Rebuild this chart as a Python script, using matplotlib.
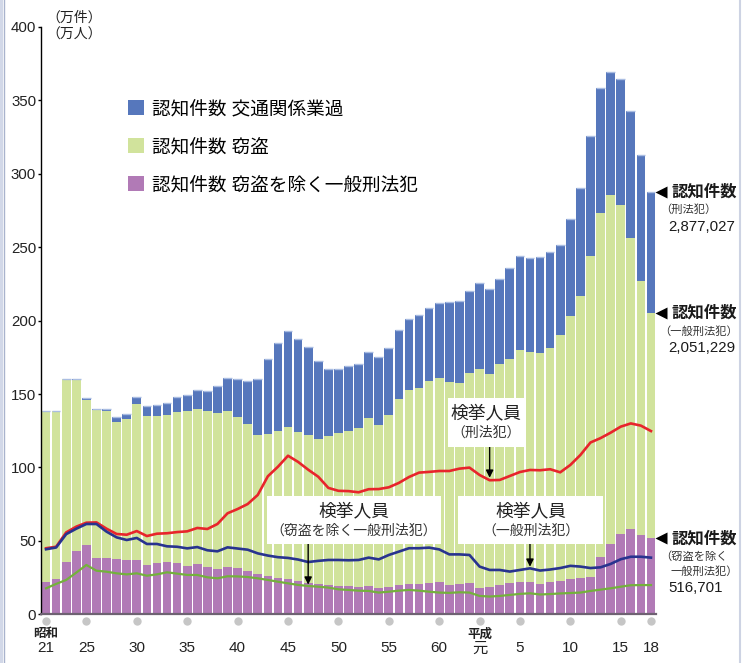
import numpy as np
import matplotlib
matplotlib.use('Agg')
import matplotlib.pyplot as plt
from matplotlib.patches import Rectangle
from matplotlib.lines import Line2D

plt.rcParams['font.family'] = ['Liberation Sans', 'Noto Sans CJK JP', 'DejaVu Sans']

years = np.arange(1946, 2007)

# 刑法犯 認知件数 (万件)
total = [138.7, 138.6, 160.3, 160.3, 147.0, 139.9, 139.5, 134.4, 136.1, 147.8,
         141.6, 142.5, 144.2, 148.3, 149.6, 153.0, 152.2, 155.8, 161.0, 160.2,
         159.1, 160.3, 174.2, 184.9, 193.2, 187.5, 181.8, 172.8, 167.2, 167.4,
         169.2, 170.3, 178.4, 175.3, 181.4, 193.5, 201.0, 204.0, 208.6, 212.0,
         212.6, 213.2, 220.5, 225.7, 221.8, 228.4, 235.6, 243.7, 242.7, 243.6,
         246.6, 251.8, 269.0, 290.4, 325.6, 358.2, 369.4, 364.6, 342.8, 312.5,
         287.7]
# 一般刑法犯 認知件数 (万件)
general = [138.4, 138.3, 160.0, 159.8, 146.1, 139.0, 138.6, 131.2, 132.7, 143.3,
           135.3, 135.3, 135.5, 138.0, 138.2, 140.0, 138.2, 137.1, 138.3, 134.3,
           129.4, 121.8, 123.0, 125.0, 127.9, 124.3, 122.0, 119.1, 121.1, 123.4,
           124.8, 126.7, 133.7, 128.9, 135.7, 146.3, 152.8, 154.0, 158.9, 160.8,
           158.1, 157.8, 164.1, 167.3, 163.7, 170.8, 174.2, 180.1, 178.4, 178.3,
           181.2, 190.0, 203.4, 216.6, 244.3, 273.6, 285.4, 279.0, 256.3, 226.9,
           205.1]
# 窃盗を除く一般刑法犯 認知件数 (万件)
non_theft = [22.2, 23.8, 35.4, 42.9, 47.4, 38.6, 38.6, 37.9, 37.2, 37.2,
             33.6, 34.7, 35.9, 35.2, 33.1, 34.5, 32.5, 30.6, 32.5, 31.8,
             29.5, 27.3, 25.8, 24.8, 23.8, 22.5, 21.2, 20.6, 19.8, 19.5,
             19.3, 18.8, 19.3, 17.6, 18.8, 19.8, 20.9, 20.4, 21.1, 22.0,
             20.0, 20.6, 21.3, 18.2, 18.8, 20.0, 21.5, 22.2, 22.2, 20.8,
             22.2, 22.9, 24.0, 24.9, 25.5, 39.2, 47.7, 55.0, 57.9, 53.8,
             51.7]
# 検挙人員 (万人)
arrest_all = [45.0, 46.0, 55.8, 59.7, 62.4, 62.6, 58.3, 54.7, 54.2, 56.7,
              53.3, 54.9, 55.2, 56.0, 56.5, 58.8, 58.1, 61.5, 68.8, 71.7,
              75.1, 81.3, 94.0, 100.5, 108.0, 103.8, 98.5, 93.7, 86.1, 84.1,
              83.9, 83.1, 85.2, 85.3, 86.5, 89.5, 93.5, 96.5, 97.0, 97.6,
              97.6, 99.2, 99.9, 94.9, 91.3, 91.5, 94.2, 96.9, 98.3, 98.1,
              98.8, 96.7, 101.7, 108.5, 117.0, 120.0, 123.7, 127.8, 130.0, 128.5,
              124.8]
arrest_general = [44.3, 45.5, 54.6, 58.3, 61.5, 61.5, 56.3, 52.4, 50.6, 52.0,
                  47.9, 47.9, 46.3, 46.0, 44.9, 45.8, 43.6, 42.9, 45.6, 44.8,
                  44.0, 41.5, 40.0, 38.9, 38.4, 37.3, 35.6, 36.4, 37.0, 37.0,
                  36.8, 37.0, 38.6, 37.4, 40.4, 42.7, 45.0, 45.0, 45.4, 44.2,
                  40.8, 40.8, 40.4, 32.5, 30.2, 30.2, 29.1, 30.2, 31.3, 29.8,
                  30.5, 31.5, 33.0, 32.5, 31.5, 32.0, 34.3, 37.5, 39.2, 39.2,
                  38.6]
arrest_non_theft = [17.7, 20.7, 23.4, 28.4, 33.6, 29.7, 29.0, 27.9, 27.2, 27.9,
                    26.3, 27.2, 28.6, 27.7, 26.8, 26.8, 25.2, 24.5, 25.9, 25.8,
                    25.4, 24.5, 23.4, 22.2, 21.1, 20.0, 19.3, 18.8, 18.2, 17.0,
                    16.6, 16.1, 15.9, 14.8, 15.4, 16.1, 16.6, 16.1, 15.4, 14.8,
                    14.6, 15.0, 14.8, 12.5, 12.1, 12.5, 13.2, 13.9, 14.3, 13.5,
                    13.8, 14.2, 14.5, 14.8, 15.9, 16.8, 17.7, 18.8, 19.8, 19.9,
                    19.9]

tick_years = [1946, 1950, 1955, 1960, 1965, 1970, 1975, 1980, 1985,
              1989, 1993, 1998, 2003, 2006]
tick_labels = ['21', '25', '30', '35', '40', '45', '50', '55', '60',
               '元', '5', '10', '15', '18']

legend_labels = ['認知件数 交通関係業過', '認知件数 窃盗', '認知件数 窃盗を除く一般刑法犯']

C_BLUE = '#5677bc'
C_GREEN = '#d1e39c'
C_PURPLE = '#b17ab6'

W, H = 743, 663


def fx(px):
    return px / W


def fy(py):
    return 1 - py / H


total = np.array(total)
general = np.array(general)
non_theft = np.array(non_theft)

fig = plt.figure(figsize=(W / 100, H / 100), dpi=100)
ax = fig.add_axes([fx(41), fy(614.3), (656 - 41) / W, (614.3 - 27) / H])

bw = 0.86
b_purple = ax.bar(years, non_theft, width=bw, color=C_PURPLE, zorder=2)
b_green = ax.bar(years, general - non_theft, bottom=non_theft, width=bw,
                 color=C_GREEN, zorder=2)
b_blue = ax.bar(years, total - general, bottom=general, width=bw,
                color=C_BLUE, zorder=2)
ax.hlines(total, years - bw / 2, years + bw / 2, color='#aabde2', lw=1.0, zorder=2.5)

ax.plot(years, arrest_all, color='#e8242b', lw=1.9, zorder=4)
ax.plot(years, arrest_general, color='#28338f', lw=1.9, zorder=4)
ax.plot(years, arrest_non_theft, color='#74b13c', lw=1.6, zorder=4)

ax.set_xlim(1945.5, 2006.5)
ax.set_ylim(0, 400)
ax.set_yticks(np.arange(0, 401, 50))
ax.tick_params(axis='y', length=2, width=1, pad=1.5, labelsize=10.8,
               labelcolor='#222222')
ax.set_xticks(tick_years, tick_labels)
ax.tick_params(axis='x', length=0, pad=19.5, labelsize=11, labelcolor='#222222')
for s in ['top', 'right']:
    ax.spines[s].set_visible(False)
ax.spines['left'].set_linewidth(1.0)
ax.spines['bottom'].set_color('#6e6272')
ax.spines['bottom'].set_linewidth(1.6)
ax.spines['bottom'].set_zorder(5)

# gray dots under the axis
ax.plot(tick_years, np.full(len(tick_years), -4.4), 'o', ms=6,
        color='#c6c6c6', mec='none', clip_on=False)
for yr, era in [(1946, '昭和'), (1989, '平成')]:
    ax.annotate(era, xy=(yr, 0), xytext=(0, -19.5), textcoords='offset pixels',
                ha='center', va='center', fontsize=9, fontweight='bold',
                color='#222222', family=['Noto Sans CJK JP'])

fig.text(fx(46), fy(18), '（万件）', fontsize=10, va='center', color='#222222')
fig.text(fx(46), fy(35), '（万人）', fontsize=10, va='center', color='#222222')

ax.legend([b_blue, b_green, b_purple], legend_labels, loc='upper left',
          bbox_to_anchor=(fx(128), fy(100)), bbox_transform=fig.transFigure,
          frameon=False, fontsize=13.4, handlelength=0.87, handleheight=0.87,
          handletextpad=0.4, labelspacing=1.08, borderpad=0, borderaxespad=0)

# 検挙人員 label boxes
boxes = [
    ((448, 398, 524, 447), '検挙人員', '（刑法犯）'),
    ((267, 496, 441, 544), '検挙人員', '（窃盗を除く一般刑法犯）'),
    ((458, 496, 603, 544), '検挙人員', '（一般刑法犯）'),
]
for (x0, y0, x1, y1), t1, t2 in boxes:
    fig.add_artist(Rectangle((fx(x0), fy(y1)), (x1 - x0) / W, (y1 - y0) / H,
                             transform=fig.transFigure, fc='white', ec='none',
                             zorder=3))
    cx = (x0 + x1) / 2
    fig.text(fx(cx), fy(y0 + 16), t1, ha='center', va='center', fontsize=12.8,
             color='#222222', zorder=4)
    fig.text(fx(cx), fy(y0 + 35), t2, ha='center', va='center', fontsize=10,
             color='#333333', zorder=4)

arrows = [(1990, 114.0, 93.0), (1972, 47.9, 20.2), (1994, 47.9, 32.4)]
for xa, ys, ye in arrows:
    ax.annotate('', xy=(xa, ye), xytext=(xa, ys),
                arrowprops=dict(arrowstyle='-|>', color='black', lw=1.0,
                                mutation_scale=11, shrinkA=0, shrinkB=0),
                zorder=6)

# right side labels: (value, [(text, x offset)], number)
right_labels = [
    (total[-1], [('（刑法犯）', -11)], '2,877,027'),
    (general[-1], [('（一般刑法犯）', -12)], '2,051,229'),
    (non_theft[-1], [('（窃盗を除く', -11), ('一般刑法犯）', -1)], '516,701'),
]
for val, subs, num in right_labels:
    ax.plot([2007.0], [val], marker='<', ms=8.5, color='black', mec='none',
            clip_on=False)
    ax.annotate('認知件数', xy=(2008.0, val), xytext=(0, 0),
                textcoords='offset pixels', ha='left', va='center',
                fontsize=11.8, fontweight='bold', color='#1a1a1a',
                annotation_clip=False)
    off = -18
    for s, dx in subs:
        ax.annotate(s, xy=(2008.0, val), xytext=(dx, off),
                    textcoords='offset pixels', ha='left', va='center',
                    fontsize=8.1, color='#333333', annotation_clip=False)
        off -= 15
    ax.annotate(num, xy=(2008.0, val), xytext=(-3, off - 2),
                textcoords='offset pixels', ha='left', va='center',
                fontsize=10.8, color='#1a1a1a', annotation_clip=False)

# page edges
fig.add_artist(Rectangle((0, 0), fx(3), 1, transform=fig.transFigure,
                         fc='#d2d8e8', ec='none'))
fig.add_artist(Line2D([fx(3.5), fx(3.5)], [0, 1], transform=fig.transFigure,
                      color='#a9b3cd', lw=1))
fig.add_artist(Line2D([fx(740), fx(740)], [0, 1], transform=fig.transFigure,
                      color='#cdd3e3', lw=1.5))

fig.savefig('out.png', dpi=100)
